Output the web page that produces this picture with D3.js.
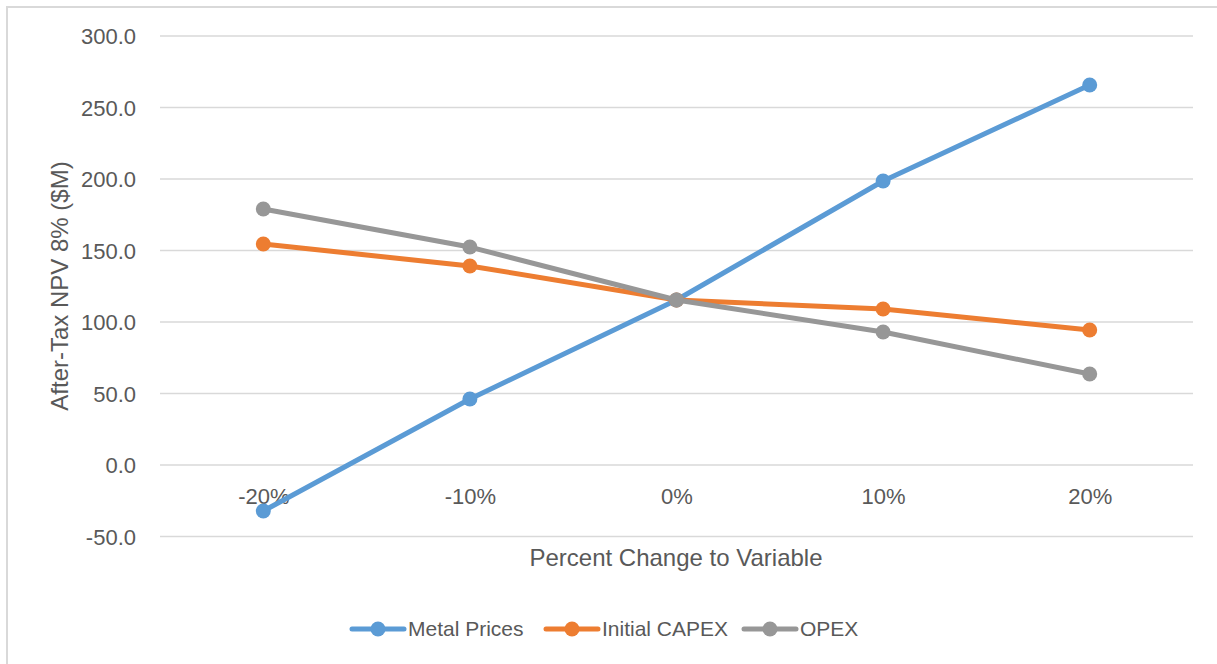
<!DOCTYPE html>
<html lang="en">
<head>
    <meta charset="UTF-8">
    <title>After-Tax NPV Sensitivity</title>
    <script src="https://d3js.org/d3.v7.min.js"></script>
    <style>
        body {
            margin: 0;
            background: #fff;
        }
        svg text {
            font-family: "Liberation Sans", Arial, sans-serif;
            fill: #595959;
        }
        .grid line {
            stroke: #d9d9d9;
            stroke-width: 1.5;
        }
        .series {
            fill: none;
            stroke-width: 5;
            stroke-linejoin: round;
            stroke-linecap: round;
        }
    </style>
</head>
<body>
    <svg id="chart" width="1217" height="664"></svg>

    <script>
        // data
        const categories = ["-20%", "-10%", "0%", "10%", "20%"];
        const metalPrices = [-32.2, 46.2, 115.4, 198.6, 265.7];
        const initialCapex = [154.5, 139.2, 115.4, 109.1, 94.4];
        const opex = [179.0, 152.4, 115.4, 93.0, 63.6];
        const yTicks = [-50, 0, 50, 100, 150, 200, 250, 300];

        const series = [
            {name: "Metal Prices", values: metalPrices, color: "#5b9bd5"},
            {name: "Initial CAPEX", values: initialCapex, color: "#ed7d31"},
            {name: "OPEX", values: opex, color: "#979797"}
        ];

        const svg = d3.select("#chart");
        const plot = {left: 160, right: 1193, top: 36, bottom: 536.5};

        // chart frame
        svg.append("rect")
            .attr("x", 7).attr("y", 7)
            .attr("width", 1240).attr("height", 700)
            .attr("fill", "none")
            .attr("stroke", "#d9d9d9")
            .attr("stroke-width", 2);

        const x = d3.scalePoint()
            .domain(categories)
            .range([plot.left, plot.right])
            .padding(0.5);

        const y = d3.scaleLinear()
            .domain([-50, 300])
            .range([plot.bottom, plot.top]);

        // horizontal gridlines
        svg.append("g")
            .attr("class", "grid")
            .selectAll("line")
            .data(yTicks)
            .enter().append("line")
            .attr("x1", plot.left)
            .attr("x2", plot.right)
            .attr("y1", d => y(d))
            .attr("y2", d => y(d));

        // y axis labels (plain hyphen for negatives, like Excel)
        const yAxis = svg.append("g")
            .attr("transform", `translate(${plot.left - 24},0)`)
            .call(d3.axisLeft(y).tickValues(yTicks).tickFormat(d => d.toFixed(1)).tickSize(0).tickPadding(0));
        yAxis.select(".domain").remove();
        yAxis.selectAll("text")
            .style("font-size", "22px")
            .attr("dy", "0.35em");

        // x axis labels, sitting under the zero line
        const xAxis = svg.append("g")
            .attr("transform", `translate(0,${y(0) + 31})`)
            .call(d3.axisBottom(x).tickSize(0).tickPadding(0));
        xAxis.select(".domain").remove();
        xAxis.selectAll("text")
            .style("font-size", "22px")
            .attr("dy", "0.35em");

        // axis titles
        svg.append("text")
            .attr("x", 676)
            .attr("y", 558)
            .attr("dy", "0.35em")
            .attr("text-anchor", "middle")
            .style("font-size", "24px")
            .text("Percent Change to Variable");

        svg.append("text")
            .attr("transform", "translate(60,286) rotate(-90)")
            .attr("dy", "0.35em")
            .attr("text-anchor", "middle")
            .style("font-size", "24px")
            .text("After-Tax NPV 8% ($M)");

        // lines and markers
        const line = d3.line()
            .x((d, i) => x(categories[i]))
            .y(d => y(d));

        series.forEach(s => {
            svg.append("path")
                .datum(s.values)
                .attr("class", "series")
                .attr("stroke", s.color)
                .attr("d", line);

            svg.append("g")
                .selectAll("circle")
                .data(s.values)
                .enter().append("circle")
                .attr("cx", (d, i) => x(categories[i]))
                .attr("cy", d => y(d))
                .attr("r", 7.5)
                .attr("fill", s.color);
        });

        // legend
        const legendX = [352, 546, 744];
        const legend = svg.append("g");
        series.forEach((s, i) => {
            const g = legend.append("g")
                .attr("transform", `translate(${legendX[i]},629)`);
            g.append("line")
                .attr("x1", 0).attr("x2", 52)
                .attr("stroke", s.color)
                .attr("stroke-width", 5)
                .attr("stroke-linecap", "round");
            g.append("circle")
                .attr("cx", 26)
                .attr("r", 7.5)
                .attr("fill", s.color);
            g.append("text")
                .attr("x", 56)
                .attr("dy", "0.35em")
                .style("font-size", "21px")
                .text(s.name);
        });
    </script>
</body>
</html>
